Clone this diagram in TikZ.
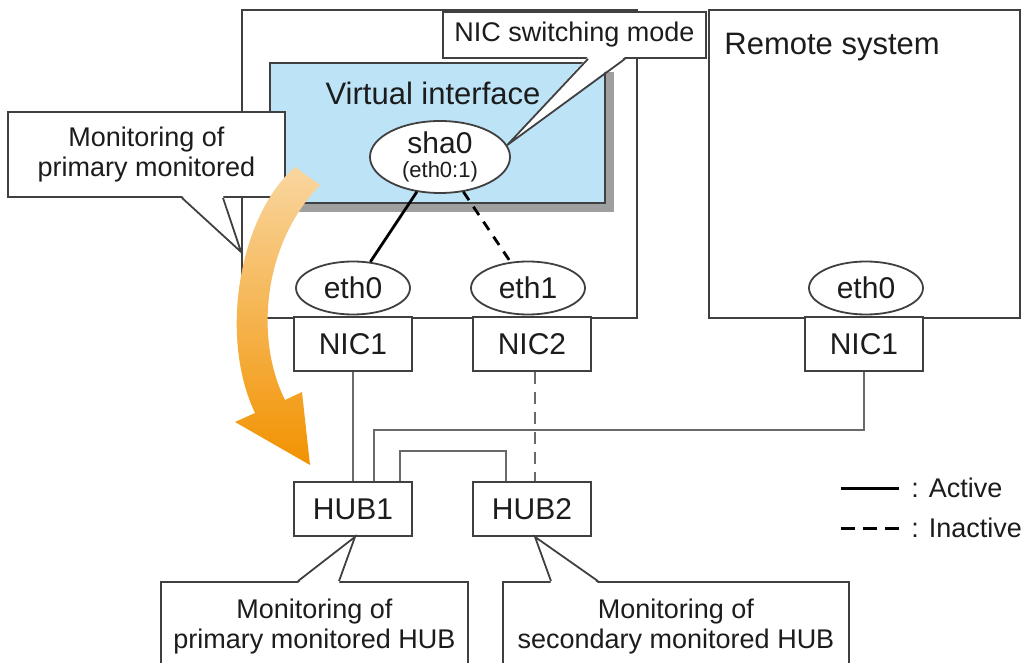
\documentclass[tikz,border=0pt]{standalone}
\usepackage{fontspec}
\setmainfont{Liberation Sans}
\usepackage{xcolor}
\usepackage{tikz}
\usetikzlibrary{arrows.meta, positioning, shapes.geometric, shadows}

\definecolor{edgegray}{RGB}{64,64,64}
\definecolor{wiregray}{RGB}{105,105,105}
\definecolor{vifblue}{RGB}{189,227,247}
\definecolor{orangelight}{RGB}{249,214,160}
\definecolor{orangedark}{RGB}{242,146,0}
\definecolor{textdark}{RGB}{28,28,28}

\begin{document}
\begin{tikzpicture}[
    x=0.5pt, y=-0.5pt,
    every node/.style={text=textdark},
    base/.style={draw=edgegray, line width=0.9pt, fill=white, inner sep=0pt},
    sysbox/.style={base, rectangle},
    card/.style={base, rectangle, minimum width=59pt, minimum height=27pt,
                 font=\fontsize{15}{17}\selectfont},
    port/.style={base, ellipse, minimum width=57pt, minimum height=26.5pt,
                 font=\fontsize{15}{17}\selectfont},
    callout/.style={base, rectangle, align=center,
                    font=\fontsize{13.5}{15}\selectfont},
    title/.style={inner sep=0pt, font=\fontsize{15.5}{17}\selectfont},
    legtext/.style={inner sep=0pt, anchor=base west,
                    font=\fontsize{13.5}{15}\selectfont},
    ptr/.style={draw=edgegray, line width=0.9pt, line join=miter},
    active/.style={draw=black, line width=1.4pt},
    inactive/.style={draw=black, line width=1.4pt, dash pattern=on 5pt off 4pt},
    legoffline/.style={draw=black, line width=1.4pt, dash pattern=on 7pt off 4pt},
    wire/.style={draw=wiregray, line width=0.8pt},
    wireoff/.style={wire, dash pattern=on 6pt off 4pt},
]
\useasboundingbox (0,0) rectangle (1024,663);

% ── Systems ────────────────────────────────────────────────────────
\node[sysbox, minimum width=197.5pt, minimum height=154pt] (sys)    at (439.5,164) {};
\node[sysbox, minimum width=155.5pt, minimum height=154pt] (remote) at (864.5,164) {};
\node[title, anchor=base west] (remtitle) at (724,55) {Remote system};

% ── Virtual interface ──────────────────────────────────────────────
\node[base, fill=vifblue, minimum width=167.5pt, minimum height=70pt,
      drop shadow={shadow xshift=4.5pt, shadow yshift=-4.5pt, fill=gray!75, opacity=1}]
      (vif) at (437.5,133) {};
\node[title, anchor=base] (viftitle) at (433,105) {Virtual interface};
\node[port, minimum width=70pt, minimum height=36pt, align=center]
      (sha0) at (440,157) {sha0\\[-5pt]{\fontsize{11}{12}\selectfont(eth0:1)}};

% ── Interfaces, NICs, HUBs ─────────────────────────────────────────
\node[port] (eth0)  at (353,288) {eth0};
\node[port] (eth1)  at (528,288) {eth1};
\node[port] (reth0) at (866,288) {eth0};

\node[card] (nic1)  at (353,344) {NIC1};
\node[card] (nic2)  at (532,344) {NIC2};
\node[card] (rnic1) at (864,344) {NIC1};

\node[card] (hub1)  at (353,509) {HUB1};
\node[card] (hub2)  at (532,509) {HUB2};

% ── Links ──────────────────────────────────────────────────────────
\draw[active]   (sha0) -- (eth0);
\draw[inactive] (sha0) -- (eth1);

\draw[wire]    (nic1) -- (hub1);
\draw[wireoff] ([xshift=1.5pt]nic2.south) -- ([xshift=1.5pt]hub2.north);

% remote NIC down to the bus line, then across into HUB1
\coordinate (bus) at (0,430);
\draw[wire] (rnic1.south) -- (rnic1.south |- bus) -| ([xshift=10.5pt]hub1.north);
% HUB1 -- HUB2 cascade
\draw[wire] ([xshift=23.5pt]hub1.north) -- ++(0,15pt) -| ([xshift=-13pt]hub2.north);

% ── Callout: primary monitored ─────────────────────────────────────
\node[callout, minimum width=138.5pt, minimum height=42.5pt]
      (monpri) at (146.5,154.5) {Monitoring of\\primary monitored};
\coordinate (tipy) at (0,252);
\coordinate (montip) at (sys.west |- tipy);
\fill[white] ([xshift=17.75pt, yshift=1pt]monpri.south) -- (montip)
             -- ([xshift=38.25pt, yshift=1pt]monpri.south) -- cycle;
\draw[ptr] ([xshift=17.75pt]monpri.south) -- (montip) -- ([xshift=38.25pt]monpri.south);

% ── Switch-over arrow ──────────────────────────────────────────────
\shade[top color=orangelight, bottom color=orangedark]
    (295,167) .. controls (240,215) and (218,335) .. (255,413)
    -- (235,422) -- (310,465) -- (302,392) -- (285,400)
    .. controls (255,340) and (262,245) .. (320,185) -- cycle;

% ── Callout: NIC switching mode ────────────────────────────────────
\node[callout, minimum width=131.5pt, minimum height=23pt]
      (nicmode) at (574.5,35) {NIC switching mode};
\fill[white] ([xshift=6.75pt, yshift=1pt]nicmode.south) -- (sha0.10)
             -- ([xshift=25.25pt, yshift=1pt]nicmode.south) -- cycle;
\draw[ptr] ([xshift=6.75pt]nicmode.south) -- (sha0.10) -- ([xshift=25.25pt]nicmode.south);

% ── Callouts: monitored HUBs ───────────────────────────────────────
\node[callout, minimum width=153.5pt, minimum height=45pt]
      (monhub1) at (314.5,627) {Monitoring of\\primary monitored HUB};
\fill[white] ([xshift=-8.25pt, yshift=-1pt]monhub1.north) -- ([xshift=1pt]hub1.south)
             -- ([xshift=12.25pt, yshift=-1pt]monhub1.north) -- cycle;
\draw[ptr] ([xshift=-8.25pt]monhub1.north) -- ([xshift=1pt]hub1.south) -- ([xshift=12.25pt]monhub1.north);

\node[callout, minimum width=173pt, minimum height=45pt]
      (monhub2) at (676,627) {Monitoring of\\secondary monitored HUB};
\fill[white] ([xshift=-62.5pt, yshift=-1pt]monhub2.north) -- ([xshift=1.5pt]hub2.south)
             -- ([xshift=-39pt, yshift=-1pt]monhub2.north) -- cycle;
\draw[ptr] ([xshift=-62.5pt]monhub2.north) -- ([xshift=1.5pt]hub2.south) -- ([xshift=-39pt]monhub2.north);

% ── Legend ─────────────────────────────────────────────────────────
\node[legtext] (legon)  at (911,498) {: Active};
\node[legtext] (legoff) at (911,538) {: Inactive};
\draw[active]     ([xshift=-35pt]legon.west)  -- ++(29pt,0);
\draw[legoffline] ([xshift=-35pt]legoff.west) -- ++(29pt,0);

\end{tikzpicture}
\end{document}
